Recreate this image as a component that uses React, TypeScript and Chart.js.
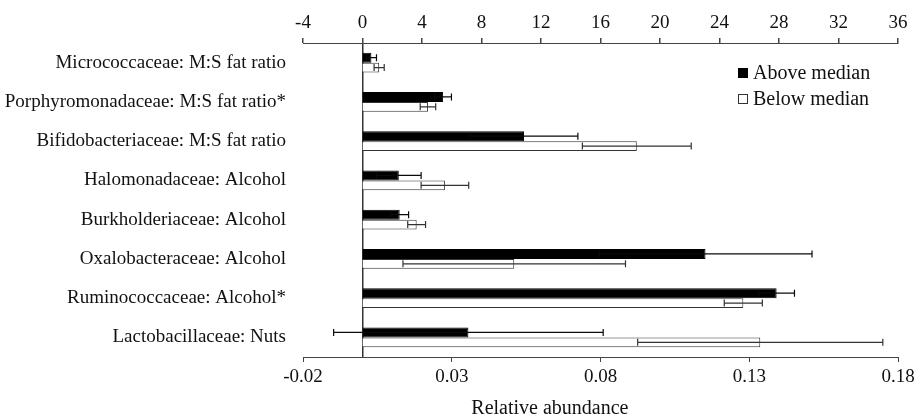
import React, { useEffect, useRef } from 'react';
import { Chart, registerables } from 'chart.js';

Chart.register(...registerables);

const categories = [
  'Micrococcaceae: M:S fat ratio',
  'Porphyromonadaceae: M:S fat ratio*',
  'Bifidobacteriaceae: M:S fat ratio',
  'Halomonadaceae: Alcohol',
  'Burkholderiaceae: Alcohol',
  'Oxalobacteraceae: Alcohol',
  'Ruminococcaceae: Alcohol*',
  'Lactobacillaceae: Nuts',
];
const seriesNames = ['Above median', 'Below median'];
const aboveMedian = [0.003, 0.0271, 0.0543, 0.0122, 0.0125, 0.1153, 0.1392, 0.0356];
const aboveError = [0.0017, 0.0028, 0.0181, 0.0075, 0.003, 0.0358, 0.006, 0.0453];
const belowMedian = [0.0056, 0.022, 0.0922, 0.0277, 0.0182, 0.051, 0.128, 0.1337];
const belowError = [0.0017, 0.0026, 0.0183, 0.008, 0.003, 0.0374, 0.0064, 0.0412];
const bottomTicks = [-0.02, 0.03, 0.08, 0.13, 0.18];
const topTicks = [-4, 0, 4, 8, 12, 16, 20, 24, 28, 32, 36];
const axisTitle = 'Relative abundance';

const FONT = "'Liberation Serif', 'Times New Roman', serif";
const TEXT = '#111';
const LINE = '#444';

const errorBarPlugin = {
  id: 'errorBars',
  afterDatasetsDraw(chart: any) {
    const ctx = chart.ctx;
    const xs = chart.scales.x;
    chart.data.datasets.forEach((ds: any, di: number) => {
      const meta = chart.getDatasetMeta(di);
      meta.data.forEach((bar: any, i: number) => {
        const v = ds.data[i];
        const e = ds.errors[i];
        const x1 = xs.getPixelForValue(v - e);
        const x2 = xs.getPixelForValue(v + e);
        const y = bar.y;
        const cap = 3.5;
        ctx.save();
        ctx.strokeStyle = ds.errorColor;
        ctx.lineWidth = 1.2;
        ctx.beginPath();
        ctx.moveTo(x1, y);
        ctx.lineTo(x2, y);
        ctx.moveTo(x1, y - cap);
        ctx.lineTo(x1, y + cap);
        ctx.moveTo(x2, y - cap);
        ctx.lineTo(x2, y + cap);
        ctx.stroke();
        ctx.restore();
      });
    });
  },
};

const legendTitlePlugin = {
  id: 'legendTitle',
  afterDraw(chart: any) {
    const ctx = chart.ctx;
    const area = chart.chartArea;
    ctx.save();
    const bx = area.right - 160;
    chart.data.datasets.forEach((ds: any, i: number) => {
      const cy = area.top + 30 + i * 26;
      ctx.fillStyle = ds.backgroundColor;
      ctx.fillRect(bx, cy - 5, 10, 10);
      ctx.strokeStyle = ds.borderColor;
      ctx.lineWidth = 1;
      ctx.strokeRect(bx + 0.5, cy - 4.5, 9, 9);
      ctx.fillStyle = TEXT;
      ctx.font = `20px ${FONT}`;
      ctx.textAlign = 'left';
      ctx.textBaseline = 'middle';
      ctx.fillText(ds.label, bx + 15, cy + 1);
    });
    ctx.font = `20px ${FONT}`;
    ctx.fillStyle = TEXT;
    ctx.textAlign = 'center';
    ctx.textBaseline = 'middle';
    ctx.fillText(axisTitle, area.left + (area.right - area.left) * 0.415, 409);
    ctx.restore();
  },
};

export default function App() {
  const ref = useRef<HTMLCanvasElement | null>(null);

  useEffect(() => {
    if (!ref.current) return;
    const chart = new Chart(ref.current, {
      type: 'bar',
      data: {
        labels: categories,
        datasets: [
          {
            label: seriesNames[0],
            data: aboveMedian,
            errors: aboveError,
            errorColor: '#0a0a0a',
            backgroundColor: '#000000',
            borderColor: '#000000',
            borderWidth: 1,
            categoryPercentage: 0.5,
            barPercentage: 1,
          } as any,
          {
            label: seriesNames[1],
            data: belowMedian,
            errors: belowError,
            errorColor: '#333333',
            backgroundColor: '#ffffff',
            borderColor: '#333333',
            borderWidth: 1,
            categoryPercentage: 0.5,
            barPercentage: 1,
          } as any,
        ],
      },
      options: {
        indexAxis: 'y',
        responsive: false,
        animation: false,
        layout: { padding: { left: 0, top: 0, right: 16, bottom: 0 } },
        plugins: {
          legend: { display: false },
          tooltip: { enabled: false },
        },
        scales: {
          y: {
            type: 'category',
            position: 'left',
            offset: true,
            grid: { display: false, drawTicks: false, tickLength: 0 },
            border: { display: false },
            ticks: {
              color: TEXT,
              font: { family: FONT, size: 19 },
              padding: 17,
              autoSkip: false,
            },
            afterFit: (s: any) => {
              s.width = 303;
            },
          },
          x: {
            type: 'linear',
            position: 'bottom',
            min: bottomTicks[0],
            max: bottomTicks[bottomTicks.length - 1],
            grid: {
              drawOnChartArea: false,
              drawTicks: true,
              tickLength: 5,
              tickColor: LINE,
              color: LINE,
            },
            border: { display: true, color: LINE, width: 1 },
            ticks: {
              color: TEXT,
              font: { family: FONT, size: 19 },
              padding: 4,
              maxRotation: 0,
              callback: (v: any) => Number(v).toFixed(2),
            },
            afterBuildTicks: (s: any) => {
              s.ticks = bottomTicks.map((value) => ({ value }));
            },
            afterFit: (s: any) => {
              s.height = 61;
              s.paddingLeft = 0;
              s.paddingRight = 0;
            },
          },
          x2: {
            type: 'linear',
            position: 'top',
            min: topTicks[0],
            max: topTicks[topTicks.length - 1],
            grid: {
              drawOnChartArea: true,
              drawTicks: true,
              tickLength: 5,
              tickColor: LINE,
              lineWidth: 1.5,
              color: (c: any) => (c.tick && c.tick.value === 0 ? '#333' : 'rgba(0,0,0,0)'),
            },
            border: { display: true, color: LINE, width: 1 },
            ticks: {
              color: TEXT,
              font: { family: FONT, size: 19 },
              padding: 4,
              maxRotation: 0,
              callback: (v: any) => String(v),
            },
            afterBuildTicks: (s: any) => {
              s.ticks = topTicks.map((value) => ({ value }));
            },
            afterFit: (s: any) => {
              s.height = 43;
              s.paddingLeft = 0;
              s.paddingRight = 0;
            },
          },
        },
      } as any,
      plugins: [errorBarPlugin, legendTitlePlugin],
    });
    return () => chart.destroy();
  }, []);

  return (
    <div style={{ position: 'absolute', left: 0, top: 0, width: 914, height: 418, background: '#fff' }}>
      <canvas ref={ref} width={914} height={418} style={{ display: 'block' }} />
    </div>
  );
}
